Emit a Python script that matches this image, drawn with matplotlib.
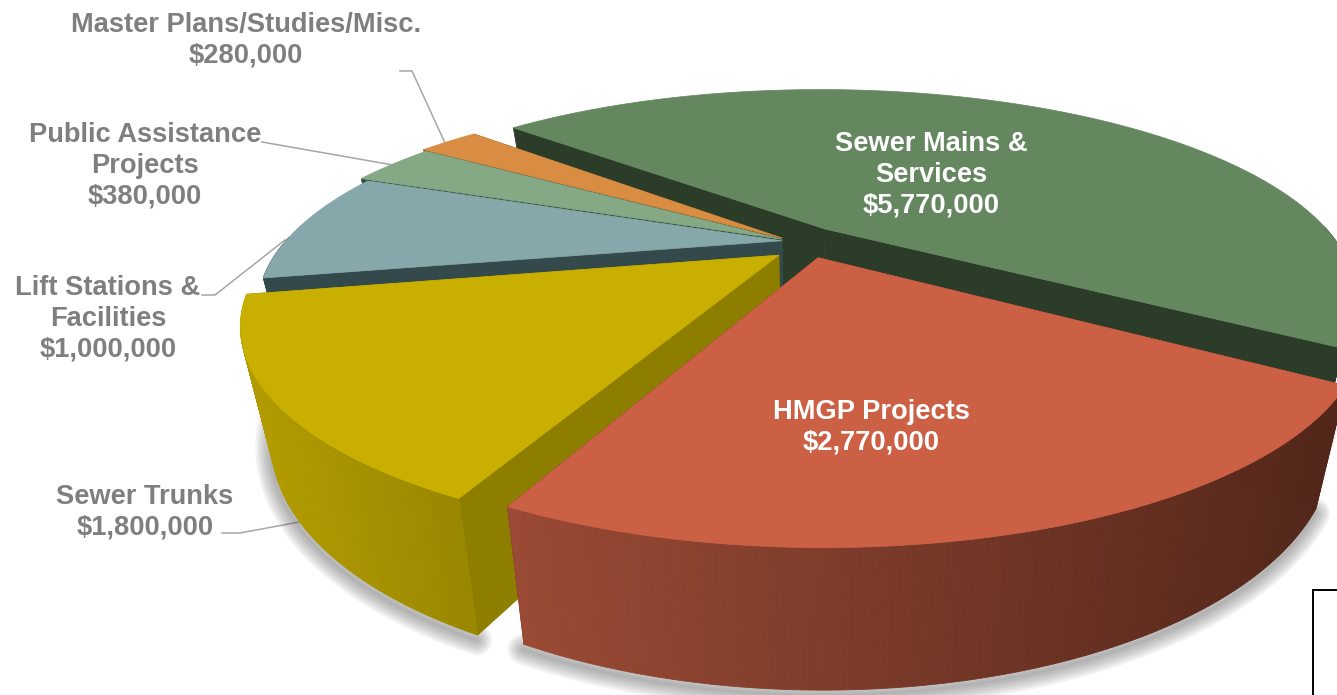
import numpy as np
import matplotlib
matplotlib.use('Agg')
import matplotlib.pyplot as plt
from matplotlib.patches import Polygon, Rectangle

# chart data, clockwise from the big green slice
categories = ['Sewer Mains &\nServices', 'HMGP Projects', 'Sewer Trunks',
              'Lift Stations &\nFacilities', 'Public Assistance\nProjects',
              'Master Plans/Studies/Misc.']
amounts = [5770000, 2770000, 1800000, 1000000, 380000, 280000]

# look of each slice
top_colors = ['#64875f', '#cc6045', '#c9b000', '#87a8ab', '#85a985', '#d98d43']
cut_colors = ['#2b3c28', '#5a2a1b', '#8e7e00', '#34494b', '#2f4a33', '#6e4a20']
wall_left = ['#2b3c28', '#9a4a35', '#b39c00', '#34494b', '#2f4a33', '#6e4a20']
wall_right = ['#2b3c28', '#52261a', '#9a8700', '#34494b', '#2f4a33', '#6e4a20']
# the picture stretches the small slices, so the spans get a view weight
view_weight = [1.06, 1.08, 1.06, 1.15, 1.16, 1.10]
# how far each slice is pulled out, and its radius
shift = [(0.04, 0.085), (0.025, -0.064), (-0.05, -0.052), (-0.045, 0.022), (-0.045, 0.03), (-0.045, 0.036)]
radius = [1.0, 0.98, 0.97, 0.97, 0.99, 1.0]
draw_order = [0, 5, 4, 3, 2, 1]
label_pos = [(931, 175), (871, 427), (145, 512), (108, 319), (145, 166), (246, 40)]
label_color = ['white', 'white', '#7f7f7f', '#7f7f7f', '#7f7f7f', '#7f7f7f']

start_angle = 138.0
cx, cy = 805, 245
a, b, h = 515, 193, 106
k, pz = 0.32, 0.945


def project(x, y, z=0.0):
    p = 1 / (1 + k * y)
    q = 1 + (pz - 1) * z
    return cx + a * x * p * q, cy - b * y * p * q + h * z * p


def hex_rgb(c):
    return np.array(matplotlib.colors.to_rgb(c))


fig = plt.figure(figsize=(13.37, 6.95), dpi=100)
ax = fig.add_axes([0, 0, 1, 1])
ax.set_xlim(0, 1337)
ax.set_ylim(695, 0)
ax.axis('off')

# leader lines sit behind the slices
leader_color = '#a6a6a6'
ax.plot([400, 412, 445], [71, 71, 143], color=leader_color, lw=1.1, zorder=1)
ax.plot([262, 393], [142, 165], color=leader_color, lw=1.1, zorder=1)
ax.plot([202, 215, 285], [295, 295, 240], color=leader_color, lw=1.1, zorder=1)
ax.plot([222, 240, 310], [533, 533, 520], color=leader_color, lw=1.1, zorder=1)

spans = np.array(amounts, dtype=float) * np.array(view_weight)
spans = spans / spans.sum() * 360
edges = start_angle - np.concatenate([[0], np.cumsum(spans)])

z = 2
for i in draw_order:
    t = np.radians(np.linspace(edges[i], edges[i + 1], 160))
    sx, sy = shift[i]
    rx = sx + radius[i] * np.cos(t)
    ry = sy + radius[i] * np.sin(t)

    # soft shadow along the bottom rim
    bx, by = project(rx, ry, 1.0)
    front = np.sin(t) < 0.0
    if front.any():
        for w in range(22, 0, -3):
            ax.plot(bx[front] - 1, by[front] + 5, color='#555555', lw=w, alpha=0.07,
                    solid_capstyle='round', zorder=z)
    z += 1

    # cut faces
    for j in (0, -1):
        p0 = project(sx, sy)
        p1 = project(rx[j], ry[j])
        p2 = project(rx[j], ry[j], 1.0)
        p3 = project(sx, sy, 1.0)
        ax.add_patch(Polygon([p0, p1, p2, p3], closed=True, fc=cut_colors[i], ec=cut_colors[i],
                             lw=0.5, zorder=z))
        z += 1

    # outer wall, far strips first
    strips = [n for n in range(len(t) - 1) if np.sin(t[n]) < 0.02]
    strips.sort(key=lambda n: -np.sin(t[n]))
    xs = [project(rx[n], ry[n])[0] for n in strips]
    for n in strips:
        u1, v1 = project(rx[n], ry[n])
        u2, v2 = project(rx[n + 1], ry[n + 1])
        u3, v3 = project(rx[n + 1], ry[n + 1], 1.0)
        u4, v4 = project(rx[n], ry[n], 1.0)
        f = (u1 - min(xs)) / max(max(xs) - min(xs), 1)
        c = hex_rgb(wall_left[i]) * (1 - f) + hex_rgb(wall_right[i]) * f
        ax.add_patch(Polygon([(u1, v1), (u2, v2), (u3, v3), (u4, v4)], closed=True, fc=c, ec=c,
                             lw=0.6, zorder=z))
    z += 1

    # top face
    ux, uy = project(rx, ry)
    ax0, ay0 = project(sx, sy)
    ax.add_patch(Polygon(np.column_stack([np.r_[ax0, ux], np.r_[ay0, uy]]), closed=True,
                         fc=top_colors[i], ec=top_colors[i], lw=0.5, zorder=z))
    z += 1

for name, amount, pos, col in zip(categories, amounts, label_pos, label_color):
    ax.text(pos[0], pos[1], f'{name}\n${amount:,}', ha='center', va='center', color=col,
            fontsize=19.6, fontweight='bold', family='Liberation Sans', linespacing=1.24,
            zorder=z + 1)

# stray box in the corner of the source image
ax.add_patch(Rectangle((1312.5, 590), 40, 120, fc='white', ec='black', lw=1.4, zorder=z + 2))

fig.savefig('out.png', dpi=100)
